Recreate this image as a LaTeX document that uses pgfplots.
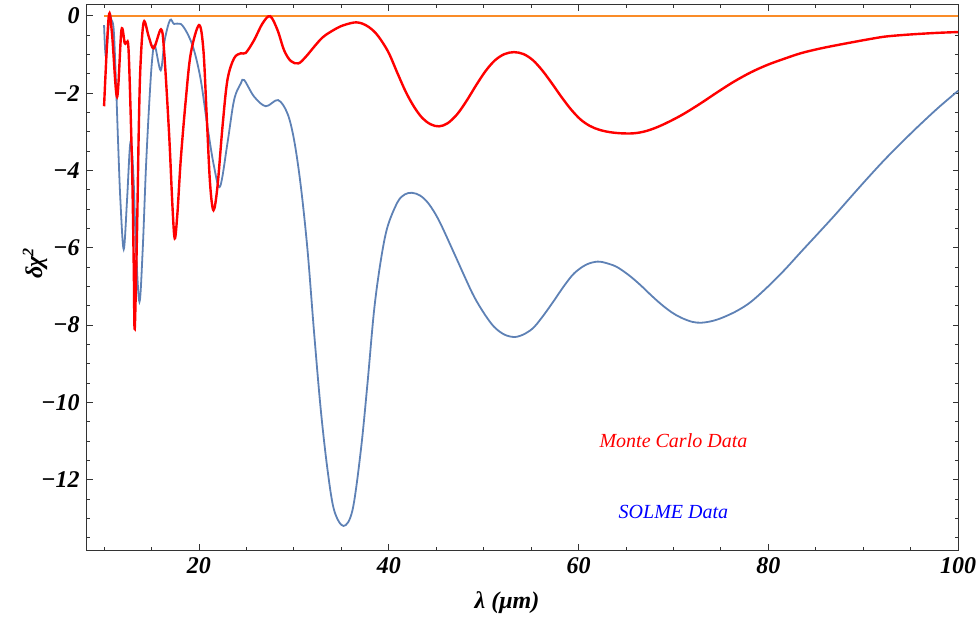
\documentclass[border=0pt]{standalone}
\usepackage{pgfplots}
\pgfplotsset{compat=1.18}
\usepackage{fontspec}
\setmainfont{Liberation Serif}
\definecolor{mblue}{RGB}{94,129,181}
\definecolor{morange}{RGB}{250,140,40}
\begin{document}
\begin{tikzpicture}
\path[use as bounding box] (-43.35pt,-35.35pt) rectangle (446.15pt,275.15pt);
\begin{axis}[
  at={(0pt,0pt)}, anchor=south west,
  scale only axis, width=435.95pt, height=272.65pt,
  xmin=8.17, xmax=100.05, ymin=-13.83, ymax=0.28,
  axis line style={line width=0.5pt, black!80},
  xtick={20,40,60,80,100}, xticklabels={20,40,60,80,100},
  minor xtick={10,15,...,100},
  ytick={-12,-10,...,0}, yticklabels={−12,−10,−8,−6,−4,−2,0},
  minor ytick={-13.5,-13,...,0},
  tick align=inside,
  major tick length=3pt, minor tick length=1.6pt,
  tick style={black!80, line width=0.4pt},
  ticklabel style={font=\fontsize{12}{14}\selectfont\bfseries\itshape},
  xlabel={λ (μm)}, ylabel={δχ\textsuperscript{2}},
  label style={font=\fontsize{12}{14}\selectfont\bfseries\itshape},
  xlabel style={at={(rel axis cs:0.482,0)}, anchor=center, yshift=-26.4pt},
  ylabel style={at={([xshift=-25.85pt]rel axis cs:0,0.527)}, anchor=center},
]
\addplot[draw=morange, line width=0.8pt] coordinates {(10,0) (55,0) (100,0)};
\addplot[mblue, line width=0.9pt, smooth, tension=0.55] coordinates {
(10.0,-0.24) (10.2,-1.06) (10.56,-0.02) (10.77,-0.1) (11.02,-0.37) (11.26,-1.75)
(11.47,-3.22) (11.72,-4.77) (12.07,-6.04) (12.42,-4.77) (12.7,-3.47) (12.88,-3.3)
(13.13,-4.34) (13.37,-6.06) (13.73,-7.4) (14.07,-6.06) (14.42,-3.9) (14.78,-2.18)
(15.06,-1.15) (15.34,-0.76) (15.97,-1.41) (16.39,-0.63) (16.95,-0.11) (17.37,-0.21)
(18.08,-0.21) (18.79,-0.46) (19.48,-0.89) (20.19,-1.66) (20.9,-2.87) (21.59,-3.9)
(22.22,-4.42) (23.0,-3.3) (23.7,-2.18) (24.41,-1.75) (24.76,-1.66) (25.81,-2.09)
(27.04,-2.34) (28.34,-2.18) (29.33,-2.53) (30.03,-3.22) (30.73,-4.4) (31.44,-6.06)
(32.14,-8.22) (32.84,-10.2) (33.55,-11.75) (34.24,-12.79) (35.23,-13.2) (36.18,-12.79)
(37.06,-11.24) (37.76,-9.51) (38.46,-7.61) (39.17,-6.32) (39.87,-5.46) (40.93,-4.82)
(41.7,-4.62) (42.45,-4.58) (43.3,-4.65) (44.2,-4.86) (45.3,-5.3) (46.9,-6.15)
(48.0,-6.75) (49.0,-7.27) (50.1,-7.72) (51.11,-8.05) (52.2,-8.25) (53.33,-8.31)
(54.4,-8.22) (55.33,-8.05) (56.4,-7.72) (57.44,-7.36) (58.5,-6.98) (59.55,-6.66)
(60.8,-6.44) (62.01,-6.36) (63.1,-6.41) (64.12,-6.51) (65.4,-6.73) (66.58,-6.98)
(67.6,-7.22) (68.69,-7.46) (69.8,-7.67) (70.8,-7.81) (72.0,-7.92) (73.0,-7.94)
(74.2,-7.89) (75.36,-7.79) (76.8,-7.62) (78.17,-7.4) (79.9,-7.02) (81.69,-6.58)
(83.4,-6.12) (85.21,-5.64) (87.0,-5.16) (88.72,-4.68) (90.5,-4.19) (92.23,-3.73)
(94.0,-3.29) (95.75,-2.87) (97.9,-2.38) (100,-1.94)
};
\addplot[red, line width=1.2pt, smooth, tension=0.55] coordinates {
(10.0,-2.34) (10.49,-0.03) (10.84,-0.47) (11.37,-2.1) (11.83,-0.37) (12.18,-0.71)
(12.39,-0.69) (12.6,-0.98) (12.95,-3.9) (13.13,-6.5) (13.23,-8.1) (13.47,-5.63)
(13.65,-3.04) (13.83,-1.32) (14.18,-0.16) (14.71,-0.54) (15.23,-0.84) (16.0,-0.35)
(16.32,-0.89) (16.85,-3.04) (17.21,-4.94) (17.45,-5.76) (17.73,-5.11) (18.08,-3.73)
(18.61,-2.18) (19.14,-0.97) (20.01,-0.24) (20.47,-0.89) (20.82,-2.61) (21.17,-4.34)
(21.53,-5.03) (21.95,-4.42) (22.48,-2.87) (23.0,-1.66) (23.7,-1.1) (24.41,-0.97)
(24.93,-0.96) (25.81,-0.63) (26.69,-0.2) (27.5,-0.01) (28.28,-0.37) (28.97,-0.89)
(29.68,-1.17) (30.49,-1.23) (31.26,-1.06) (32.14,-0.8) (33.02,-0.56) (33.9,-0.41)
(34.95,-0.27) (36.0,-0.19) (36.6,-0.17) (37.2,-0.2) (37.9,-0.29) (38.6,-0.44)
(39.3,-0.67) (40.04,-0.98) (40.93,-1.49) (41.8,-1.97) (42.68,-2.36) (43.56,-2.65) (44.44,-2.81)
(45.3,-2.86) (46.2,-2.78) (47.2,-2.55) (48.2,-2.2) (49.2,-1.8) (50.2,-1.43)
(51.2,-1.15) (52.2,-0.99) (53.2,-0.94) (54.2,-0.99) (55.2,-1.15) (56.2,-1.42)
(57.2,-1.75) (58.2,-2.1) (59.2,-2.42) (60.2,-2.68) (61.2,-2.85) (62.2,-2.95)
(63.3,-3.01) (64.5,-3.04) (65.8,-3.04) (67.0,-2.99) (68.3,-2.88) (69.7,-2.72)
(71.14,-2.53) (72.9,-2.26) (74.67,-1.97) (76.4,-1.7) (78.18,-1.46) (79.9,-1.27)
(81.69,-1.11) (83.4,-0.97) (85.21,-0.86) (87.0,-0.77) (88.72,-0.69) (90.5,-0.61)
(92.23,-0.54) (94.0,-0.5) (95.75,-0.47) (97.9,-0.44) (100,-0.42)
};
\node[red, font=\fontsize{10}{12}\selectfont\itshape] at (axis cs:70,-11) {Monte Carlo Data};
\node[blue, font=\fontsize{10}{12}\selectfont\itshape] at (axis cs:70,-12.85) {SOLME Data};
\end{axis}
\end{tikzpicture}
\end{document}
